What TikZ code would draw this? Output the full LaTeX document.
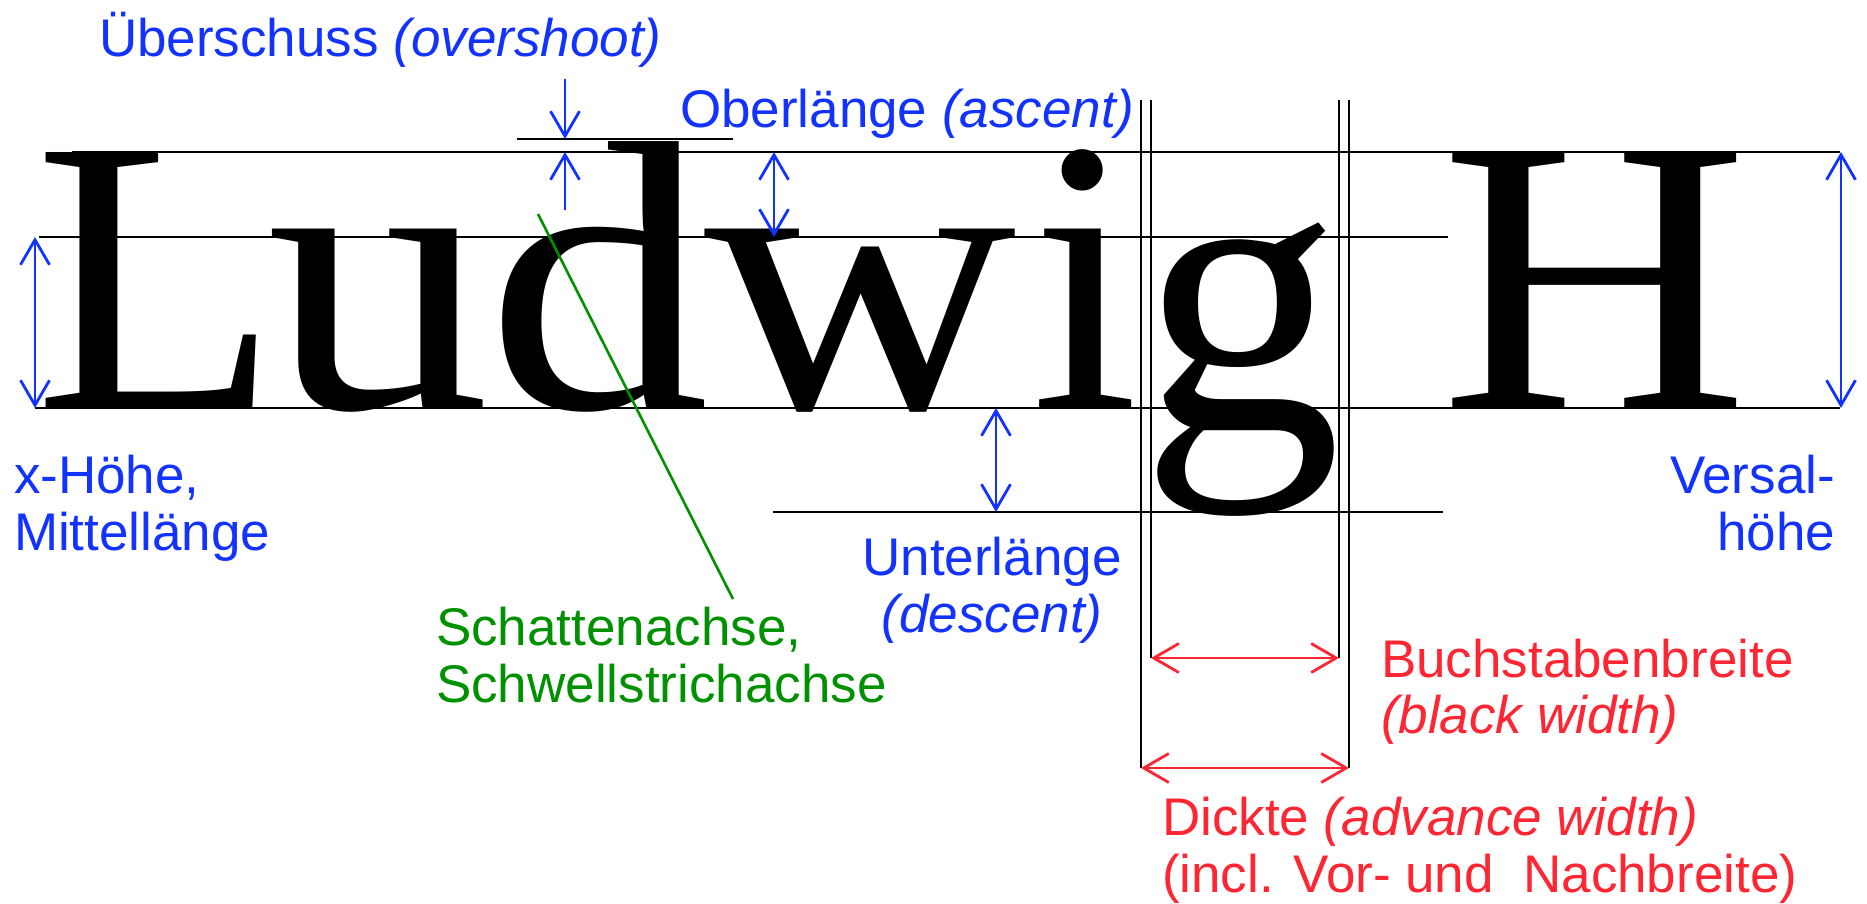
\documentclass[tikz,border=0pt]{standalone}
\usepackage{fontspec}
\usepackage{graphicx}
\usetikzlibrary{arrows.meta}
\setmainfont{Liberation Sans}
\newfontfamily\glyphfont{Liberation Serif}

\definecolor{lblblue}{RGB}{18,50,255}
\definecolor{lblred}{RGB}{255,38,51}
\definecolor{lblgreen}{RGB}{0,145,0}

\tikzset{
  guide/.style={draw=black, line width=2.2pt},
  glyph/.style={inner sep=0pt, outer sep=0pt, anchor=base west,
                font=\glyphfont\fontsize{391}{400}\selectfont},
  lbl/.style={inner sep=0pt, outer sep=0pt,
              font=\fontsize{53}{57}\selectfont},
  barb/.style={-{Straight Barb[length=25pt,width=29pt,line width=2.8pt]}},
  dbarb/.style={{Straight Barb[length=25pt,width=29pt,line width=2.8pt]}-{Straight Barb[length=25pt,width=29pt,line width=2.8pt]}},
  bluedim/.style={draw=lblblue, line width=2.8pt},
  reddim/.style={draw=lblred, line width=2.8pt},
}

\begin{document}
\begin{tikzpicture}[x=1pt, y=-1pt]
\useasboundingbox (0,0) rectangle (1867,904);

% sample word, letter by letter
\node[glyph] (gL) at (34,408) {\scalebox{1.03}[1]{L}};
\node[glyph] (gu) at (266,408) {\scalebox{1.147}[1]{u}};
\node[glyph] (gd) at (486,408) {\scalebox{1.143}[0.984]{d}};
\node[glyph] (gw) at (704,408) {\scalebox{1.107}[1]{w}};
\node[glyph] (gi) at (1031.7,408) {\scalebox{0.99}[1]{i}};
\node[glyph] (gg) at (1140,429) {\scalebox{1.03}[1.03]{g}};
\node[glyph] (gH) at (1440,408) {\scalebox{1.093}[1]{H}};

% horizontal guide lines
\coordinate (capL) at (72,152);   \coordinate (capR) at (1840,152);
\coordinate (xhL) at (39,237);    \coordinate (xhR) at (1448,237);
\coordinate (baseL) at (35,408);  \coordinate (baseR) at (1840,408);
\coordinate (ovL) at (517,139);   \coordinate (ovR) at (733,139);
\coordinate (dsL) at (773,512);   \coordinate (dsR) at (1443,512);
\draw[guide] (capL) -- (capR);
\draw[guide] (xhL) -- (xhR);
\draw[guide] (baseL) -- (baseR);
\draw[guide] (ovL) -- (ovR);
\draw[guide] (dsL) -- (dsR);

% vertical guides around the g
\coordinate (adL0) at (1141,100); \coordinate (adL1) at (1141,768);
\coordinate (adR0) at (1349,100); \coordinate (adR1) at (1349,768);
\coordinate (bwL0) at (1151,100); \coordinate (bwL1) at (1151,658);
\coordinate (bwR0) at (1339,100); \coordinate (bwR1) at (1339,658);
\draw[guide] (adL0) -- (adL1);
\draw[guide] (adR0) -- (adR1);
\draw[guide] (bwL0) -- (bwL1);
\draw[guide] (bwR0) -- (bwR1);

% stress axis
\coordinate (axA) at (538,214);
\coordinate (axB) at (733,599);
\draw[draw=lblgreen, line width=2.6pt] (axA) -- (axB);

% blue vertical dimensions
\coordinate (ovT) at (565,79);  \coordinate (ovTt) at (565,139);
\coordinate (ovB) at (565,210); \coordinate (ovBt) at (565,152);
\draw[bluedim, barb] (ovT) -- (ovTt);
\draw[bluedim, barb] (ovB) -- (ovBt);

\coordinate (ascT) at (774,152); \coordinate (ascB) at (774,237);
\draw[bluedim, dbarb] (ascT) -- (ascB);

\coordinate (xT) at (35,237); \coordinate (xB) at (35,408);
\draw[bluedim, dbarb] (xT) -- (xB);

\coordinate (dT) at (996,408); \coordinate (dB) at (996,512);
\draw[bluedim, dbarb] (dT) -- (dB);

\coordinate (cT) at (1841,152); \coordinate (cB) at (1841,408);
\draw[bluedim, dbarb] (cT) -- (cB);

% red width dimensions
\draw[reddim, dbarb] (bwL1) -- (bwR1);
\draw[reddim, dbarb] (adL1) -- (adR1);

% labels
\node[lbl, text=lblblue, anchor=base west] (tOver) at (99,57)
  {Überschuss \textit{(overshoot)}};
\node[lbl, text=lblblue, anchor=base west] (tAsc) at (680,128)
  {Oberlänge \textit{(ascent)}};
\node[lbl, text=lblblue, anchor=base west] (tXh1) at (14,493) {x-Höhe,};
\node[lbl, text=lblblue, anchor=base west] (tXh2) at (14,550) {Mittellänge};
\node[lbl, text=lblgreen, anchor=base west] (tAx1) at (436,645) {Schattenachse,};
\node[lbl, text=lblgreen, anchor=base west] (tAx2) at (436,702) {Schwellstrichachse};
\node[lbl, text=lblblue, anchor=base] (tDes1) at (992,575) {Unterlänge};
\node[lbl, text=lblblue, anchor=base] (tDes2) at (992,632) {\textit{(descent)}};
\node[lbl, text=lblblue, anchor=base east] (tCap1) at (1835,493) {Versal-};
\node[lbl, text=lblblue, anchor=base east] (tCap2) at (1835,550) {höhe};
\node[lbl, text=lblred, anchor=base west] (tBw1) at (1381,677) {Buchstabenbreite};
\node[lbl, text=lblred, anchor=base west] (tBw2) at (1381,733) {\textit{(black width)}};
\node[lbl, text=lblred, anchor=base west] (tAw1) at (1162,835) {Dickte \textit{(advance width)}};
\node[lbl, text=lblred, anchor=base west] (tAw2) at (1162,892) {(incl. Vor- und\ \ Nachbreite)};
\end{tikzpicture}
\end{document}
